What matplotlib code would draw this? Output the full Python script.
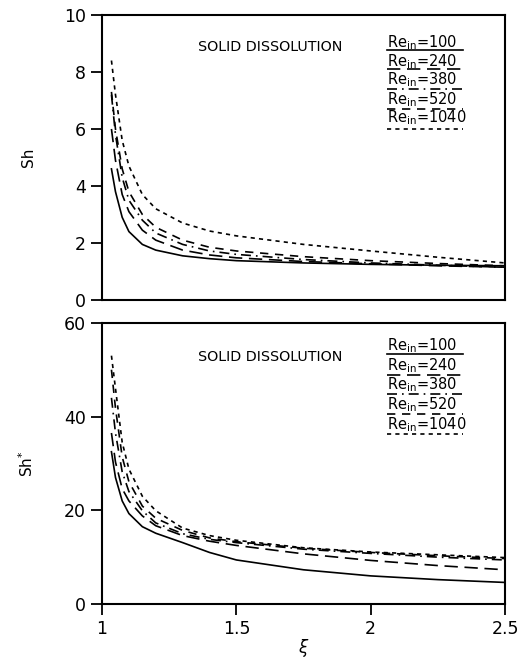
import numpy as np
import matplotlib.pyplot as plt

# data
xi = [1.035, 1.05, 1.075, 1.1, 1.15, 1.2, 1.3, 1.4, 1.5, 1.75, 2.0, 2.25, 2.5]
re_labels = ['100', '240', '380', '520', '1040']

sh_100 = [4.6, 3.8, 2.9, 2.4, 1.95, 1.75, 1.55, 1.45, 1.38, 1.3, 1.25, 1.22, 1.2]
sh_240 = [6.0, 4.9, 3.7, 3.1, 2.45, 2.1, 1.75, 1.58, 1.48, 1.35, 1.27, 1.2, 1.15]
sh_380 = [7.2, 5.8, 4.3, 3.5, 2.8, 2.35, 1.95, 1.72, 1.6, 1.42, 1.3, 1.22, 1.15]
sh_520 = [7.3, 6.0, 4.6, 3.8, 3.0, 2.55, 2.1, 1.85, 1.72, 1.52, 1.38, 1.28, 1.2]
sh_1040 = [8.4, 7.2, 5.6, 4.7, 3.7, 3.2, 2.7, 2.42, 2.25, 1.95, 1.72, 1.5, 1.3]

shs_100 = [32.5, 27, 22, 19.3, 16.5, 15.1, 13.1, 11.0, 9.4, 7.3, 6.0, 5.2, 4.6]
shs_240 = [36.5, 30.3, 24.6, 22, 18.8, 16.7, 14.6, 13.4, 12.5, 10.7, 9.3, 8.2, 7.3]
shs_380 = [44, 36.5, 28.2, 24, 19.9, 17.3, 15.0, 13.8, 13.1, 11.7, 10.8, 10.0, 9.4]
shs_520 = [50, 41.8, 31.4, 26.1, 20.9, 18.3, 15.7, 14.1, 13.3, 11.9, 11.0, 10.3, 9.7]
shs_1040 = [53, 46, 34.5, 28.8, 23, 19.9, 16.2, 14.6, 13.6, 12.0, 11.1, 10.5, 9.9]

styles = ['-', (0, (8, 4)), (0, (6, 3, 1, 3)), (0, (5, 4)), (0, (2.5, 2.5))]

plt.rcParams['font.family'] = ['DejaVu Sans']

fig = plt.figure(figsize=(5.18, 6.63), dpi=100)
ax1 = fig.add_axes([0.197, 0.5475, 0.778, 0.430])
ax2 = fig.add_axes([0.197, 0.089, 0.778, 0.424])

def panel(ax, series, ymax, yticks, text_y, leg_text, leg_line):
    for s, ls in zip(series, styles):
        ax.plot(xi, s, color='black', lw=1.2, linestyle=ls)
    ax.set_xlim(1, 2.5)
    ax.set_ylim(0, ymax)
    ax.set_yticks(yticks)
    ax.set_xticks([1, 1.5, 2, 2.5])
    ax.set_xticklabels(['1', '1.5', '2', '2.5'])
    ax.tick_params(direction='out', length=8, width=1.3, labelsize=12.5)
    for sp in ax.spines.values():
        sp.set_linewidth(1.5)
    ax.text(0.416, text_y, 'SOLID DISSOLUTION', transform=ax.transAxes,
            ha='center', va='center', fontsize=10.3)
    for lab, ls, ty, ly in zip(re_labels, styles, leg_text, leg_line):
        ax.text(0.707, ty, r'$\mathrm{Re_{in}}$=' + lab, transform=ax.transAxes,
                ha='left', va='center', fontsize=10.5)
        ax.plot([0.707, 0.896], [ly, ly], transform=ax.transAxes,
                color='black', lw=1.2, linestyle=ls)

panel(ax1, [sh_100, sh_240, sh_380, sh_520, sh_1040], 10, [0, 2, 4, 6, 8, 10], 0.889,
      [0.902, 0.835, 0.772, 0.702, 0.639], [0.878, 0.811, 0.741, 0.671, 0.601])
ax1.tick_params(axis='x', labelbottom=False, length=0)
ax1.set_ylabel('Sh', fontsize=11, labelpad=20)

panel(ax2, [shs_100, shs_240, shs_380, shs_520, shs_1040], 60, [0, 20, 40, 60], 0.880,
      [0.918, 0.847, 0.779, 0.708, 0.637], [0.890, 0.815, 0.748, 0.677, 0.603])
ax2.set_ylabel(r'Sh$^{*}$', fontsize=11, labelpad=20)
ax2.set_xlabel(r'$\xi$', fontsize=12, labelpad=-1)

fig.savefig('out.png', dpi=100)
